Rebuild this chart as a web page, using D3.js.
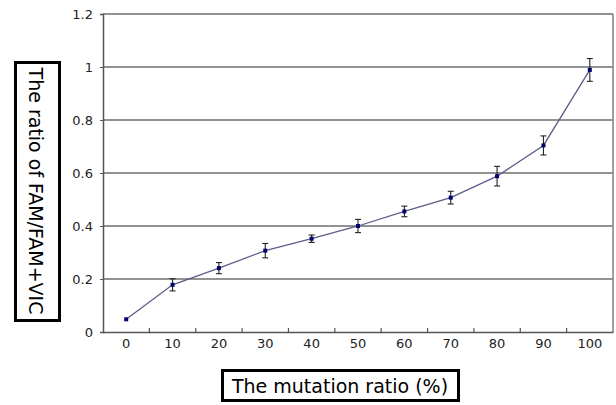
<!DOCTYPE html>
<html>
<head>
  <meta charset="utf-8">
  <title>FAM/FAM+VIC ratio</title>
  <style>
    body { margin: 0; background: #fff; }
    svg text { font-family: "DejaVu Sans", Verdana, sans-serif; }
  </style>
</head>
<body>
  <script src="https://d3js.org/d3.v7.min.js"></script>
  <script type="text/javascript">
    var categories = ["0", "10", "20", "30", "40", "50", "60", "70", "80", "90", "100"];
    var ratio = [0.048, 0.178, 0.241, 0.307, 0.352, 0.400, 0.455, 0.507, 0.588, 0.704, 0.989];
    var errors = [0.0, 0.023, 0.021, 0.027, 0.014, 0.025, 0.020, 0.024, 0.037, 0.036, 0.043];
    var yTicks = [0, 0.2, 0.4, 0.6, 0.8, 1, 1.2];

    var width = 616, height = 405;
    var plotLeft = 103, plotRight = 613, plotTop = 14, plotBottom = 332;

    var svg = d3.select("body")
      .append("svg")
      .attr("width", width)
      .attr("height", height);

    var x = d3.scaleBand()
      .domain(categories)
      .range([plotLeft, plotRight]);

    var y = d3.scaleLinear()
      .domain([0, 1.2])
      .range([plotBottom, plotTop]);

    // horizontal gridlines
    svg.append("g")
      .selectAll("line")
      .data(yTicks.slice(1))
      .enter()
      .append("line")
      .attr("x1", plotLeft)
      .attr("x2", plotRight)
      .attr("y1", function(d){ return y(d); })
      .attr("y2", function(d){ return y(d); })
      .attr("stroke", "#6e6e6e")
      .attr("stroke-width", 1.5);

    // plot frame (right side)
    svg.append("line")
      .attr("x1", plotRight).attr("x2", plotRight)
      .attr("y1", plotTop).attr("y2", plotBottom)
      .attr("stroke", "#808080").attr("stroke-width", 1.5);

    // y axis
    var yAxis = svg.append("g")
      .attr("transform", "translate(" + plotLeft + ",0)")
      .call(d3.axisLeft(y).tickValues(yTicks).tickSize(3).tickPadding(7)
        .tickFormat(function(d){ return d3.format("")(d); }));
    yAxis.select(".domain").attr("stroke", "#555").attr("stroke-width", 1.5);
    yAxis.selectAll(".tick line").attr("stroke", "#555");
    yAxis.selectAll("text").attr("font-size", 13).attr("fill", "#222")
      .attr("font-family", "\"DejaVu Sans\", Verdana, sans-serif");

    // x axis labels
    var xAxis = svg.append("g")
      .attr("transform", "translate(0," + plotBottom + ")")
      .call(d3.axisBottom(x).tickSize(0).tickPadding(7));
    xAxis.select(".domain").attr("stroke", "#555").attr("stroke-width", 1.5);
    xAxis.selectAll("text").attr("font-size", 13).attr("fill", "#222")
      .attr("font-family", "\"DejaVu Sans\", Verdana, sans-serif");

    // x tick marks between categories (inside)
    svg.append("g")
      .selectAll("line")
      .data(categories.slice(1))
      .enter()
      .append("line")
      .attr("x1", function(d){ return x(d); })
      .attr("x2", function(d){ return x(d); })
      .attr("y1", plotBottom)
      .attr("y2", plotBottom - 4)
      .attr("stroke", "#555")
      .attr("stroke-width", 1.2);

    var pts = categories.map(function(c, i){ return { c: c, v: ratio[i], e: errors[i] }; });
    var cx = function(d){ return x(d.c) + x.bandwidth() / 2; };

    // series line
    svg.append("path")
      .datum(pts)
      .attr("fill", "none")
      .attr("stroke", "#5c5c8a")
      .attr("stroke-width", 1.3)
      .attr("d", d3.line().x(cx).y(function(d){ return y(d.v); }));

    // error bars
    var eb = svg.append("g").attr("stroke", "#222").attr("stroke-width", 1.1);
    var withErr = pts.filter(function(d){ return d.e > 0; });
    eb.selectAll(".stem").data(withErr).enter().append("line")
      .attr("x1", cx).attr("x2", cx)
      .attr("y1", function(d){ return y(d.v + d.e); })
      .attr("y2", function(d){ return y(d.v - d.e); });
    eb.selectAll(".capT").data(withErr).enter().append("line")
      .attr("x1", function(d){ return cx(d) - 3; }).attr("x2", function(d){ return cx(d) + 3; })
      .attr("y1", function(d){ return y(d.v + d.e); })
      .attr("y2", function(d){ return y(d.v + d.e); });
    eb.selectAll(".capB").data(withErr).enter().append("line")
      .attr("x1", function(d){ return cx(d) - 3; }).attr("x2", function(d){ return cx(d) + 3; })
      .attr("y1", function(d){ return y(d.v - d.e); })
      .attr("y2", function(d){ return y(d.v - d.e); });

    // markers
    svg.append("g")
      .selectAll("rect")
      .data(pts)
      .enter()
      .append("rect")
      .attr("x", function(d){ return cx(d) - 2; })
      .attr("y", function(d){ return y(d.v) - 2; })
      .attr("width", 4)
      .attr("height", 4)
      .attr("fill", "#000070");

    // y axis title box
    svg.append("rect")
      .attr("x", 15.5).attr("y", 62.5)
      .attr("width", 44).attr("height", 258)
      .attr("fill", "none").attr("stroke", "#000").attr("stroke-width", 3);
    svg.append("text")
      .attr("transform", "translate(36,191) rotate(90)")
      .attr("text-anchor", "middle")
      .attr("dominant-baseline", "central")
      .attr("font-size", 19)
      .attr("fill", "#000")
      .text("The ratio of FAM/FAM+VIC");

    // x axis title box
    svg.append("rect")
      .attr("x", 222.5).attr("y", 370.5)
      .attr("width", 236).attr("height", 30)
      .attr("fill", "none").attr("stroke", "#000").attr("stroke-width", 3);
    svg.append("text")
      .attr("x", 340).attr("y", 386)
      .attr("text-anchor", "middle")
      .attr("dominant-baseline", "central")
      .attr("font-size", 19)
      .attr("fill", "#000")
      .text("The mutation ratio (%)");
  </script>
</body>
</html>
